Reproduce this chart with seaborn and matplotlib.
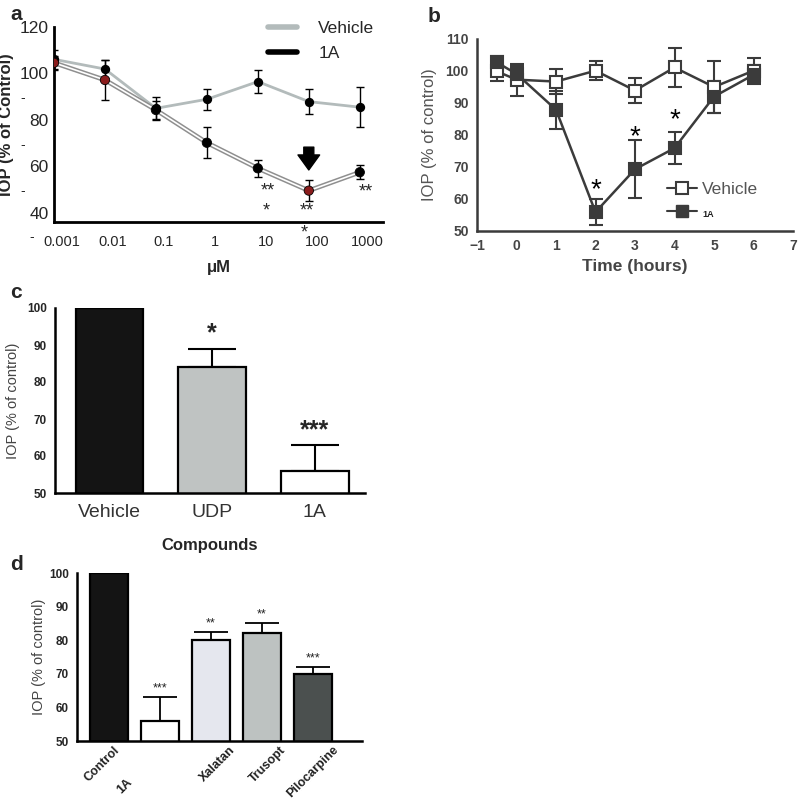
import numpy as np
import pandas as pd
import seaborn as sns
import matplotlib
matplotlib.use("Agg")
import matplotlib.pyplot as plt
from matplotlib.transforms import ScaledTranslation

sns.set_theme(style="white")
plt.rcParams['font.family'] = ['Liberation Sans', 'DejaVu Sans']

# ---------------- data ----------------
# Panel a: dose response
conc = [0.0007, 0.007, 0.07, 0.7, 7, 70, 700]
conc_ticks = [0.001, 0.01, 0.1, 1, 10, 100, 1000]
conc_labels = ['0.001', '0.01', '0.1', '1', '10', '100', '1000']
a_vehicle = [106.1, 101.9, 85.0, 88.9, 96.5, 87.9, 85.5]
a_vehicle_err = [4, 4, 5, 4.5, 5, 5.4, 8.7]
a_1a = [104.6, 97.2, 84.3, 70.2, 59.2, 49.6, 57.5]
a_1a_err = [3, 8.6, 4, 6.7, 3.6, 4.5, 3]
a_1a_red = [True, True, False, False, False, True, False]

# Panel b: time course
time_h = [-0.5, 0, 1, 2, 3, 4, 5, 6]
b_vehicle = [99.9, 97.3, 96.7, 100.1, 93.9, 101.1, 95.0, 100.1]
b_vehicle_err = [3, 5, 4, 3, 4, 6, 8, 4]
b_1a = [102.7, 99.1, 87.9, 55.9, 69.3, 75.9, 92.0, 98.8]
b_1a_err = [2, 2.5, 6, 4, 9, 5, 5, 3]
b_sig_times = [2, 3, 4]
b_sig_y = [62.7, 79.4, 84.6]

# Panel c: compounds
c_labels = ['Vehicle', 'UDP', '1A']
c_values = [100, 84, 56]
c_err = [0, 5, 7]
c_sig = ['', '*', '***']
c_colors = ['#141414', '#bec4c2', '#ffffff']

# Panel d: comparison
d_labels = ['Control', '1A', 'Xalatan', 'Trusopt', 'Pilocarpine']
d_values = [100, 56, 80, 82, 70]
d_err = [0, 7, 2.5, 3, 2]
d_sig = ['', '***', '**', '**', '***']
d_colors = ['#141414', '#ffffff', '#e4e6ef', '#bcc3c1', '#4a5150']

W, H = 798, 800
fig = plt.figure(figsize=(W / 100, H / 100), dpi=100)


def ax_px(l, t, r, b):
    return fig.add_axes([l / W, 1 - b / H, (r - l) / W, (b - t) / H])


# ---------------- panel a ----------------
ax = ax_px(54, 27, 383, 222)
veh_col = '#b3bbbb'
sns.lineplot(x=conc, y=a_vehicle, ax=ax, color=veh_col, linewidth=2, zorder=2)
sns.lineplot(x=conc, y=a_1a, ax=ax, color='#8f8f8f', linewidth=3.4, zorder=2)
sns.lineplot(x=conc, y=a_1a, ax=ax, color='white', linewidth=1.2, zorder=2)
ax.errorbar(conc, a_vehicle, yerr=a_vehicle_err, fmt='none', ecolor='black',
            elinewidth=1, capsize=3, capthick=1, zorder=3)
ax.errorbar(conc, a_1a, yerr=a_1a_err, fmt='none', ecolor='black',
            elinewidth=1, capsize=3, capthick=1, zorder=3)
ax.scatter(conc, a_vehicle, s=45, color='black', zorder=4, linewidths=0)
a_face = ['#8a1c1c' if r else 'black' for r in a_1a_red]
ax.scatter(conc, a_1a, s=45, c=a_face, edgecolors='black', linewidths=0.6, zorder=4)
ax.set_xscale('log')
ax.set_xlim(0.0007, 2000)
ax.set_ylim(36.1, 120)
ax.set_xticks(conc_ticks)
ax.set_xticklabels(conc_labels, fontsize=10.5)
ax.minorticks_off()
ax.set_yticks([40, 60, 80, 100, 120])
ax.set_yticklabels(['40', '60', '80', '100', '120'], fontsize=12.5)
ax.set_yticks([50, 70, 90], minor=True)
ax.set_yticklabels(['-', '-', '-'], minor=True, fontsize=10)
ax.tick_params(axis='x', direction='out', length=7, width=1.5, color='black', pad=2)
ax.tick_params(axis='y', which='major', length=0, pad=4)
ax.tick_params(axis='y', which='minor', length=0, pad=21)
for s in ['top', 'right']:
    ax.spines[s].set_visible(False)
for s in ['left', 'bottom']:
    ax.spines[s].set_linewidth(2)
    ax.spines[s].set_color('black')
ax.set_xlabel('μM', fontsize=12, fontweight='bold', labelpad=8)
ax.set_ylabel('IOP (% of Control)', fontsize=12, fontweight='bold', labelpad=4)
ax.text(-0.067, -0.075, '-', transform=ax.transAxes, fontsize=10, ha='center', va='center')
# arrow marking best dose
ax.annotate('', xy=(70, 57.3), xytext=(70, 69.5),
            arrowprops=dict(arrowstyle='simple,head_width=1.3,head_length=0.9,tail_width=0.6',
                            color='black'))
for xx, yy, tt in [(11, 49.5, '**'), (10.3, 40.8, '*'), (64, 40.8, '**'),
                   (58, 31.5, '*'), (917, 48.8, '**')]:
    ax.text(xx, yy, tt, fontsize=13, ha='center', va='center', clip_on=False)
leg_handles = [plt.Line2D([], [], color=veh_col, lw=4),
               plt.Line2D([], [], color='black', lw=4)]
ax.legend(leg_handles, ['Vehicle', '1A'], loc='upper left', bbox_to_anchor=(0.65, 1.03),
          frameon=False, fontsize=12.5, handlelength=1.7, labelspacing=0.55,
          handletextpad=1.2, borderpad=0, borderaxespad=0)

# ---------------- panel b ----------------
gcol = '#3b3b3b'
ax = ax_px(477, 39, 793, 231)
sns.lineplot(x=time_h, y=b_vehicle, ax=ax, color=gcol, linewidth=1.8, zorder=2)
sns.lineplot(x=time_h, y=b_1a, ax=ax, color=gcol, linewidth=1.8, zorder=2)
ax.errorbar(time_h, b_vehicle, yerr=b_vehicle_err, fmt='none', ecolor=gcol,
            elinewidth=1.5, capsize=5, capthick=1.5, zorder=3)
ax.errorbar(time_h, b_1a, yerr=b_1a_err, fmt='none', ecolor=gcol,
            elinewidth=1.5, capsize=5, capthick=1.5, zorder=3)
ax.plot(time_h, b_vehicle, ls='none', marker='s', ms=9, mfc='white', mec=gcol, mew=1.5, zorder=4)
ax.plot(time_h, b_1a, ls='none', marker='s', ms=9, mfc=gcol, mec=gcol, mew=1.5, zorder=4)
for tt, yy in zip(b_sig_times, b_sig_y):
    ax.text(tt, yy, '*', fontsize=20, ha='center', va='center', color='black')
ax.set_xlim(-1, 7)
ax.set_ylim(50, 110)
ax.set_xticks(range(-1, 8))
ax.set_yticks(range(50, 111, 10))
ax.tick_params(labelsize=10, direction='out', length=4, width=1.6, color=gcol, pad=2)
for lab in ax.get_xticklabels() + ax.get_yticklabels():
    lab.set_fontweight('bold')
    lab.set_color('#454545')
for s in ['top', 'right']:
    ax.spines[s].set_visible(False)
for s in ['left', 'bottom']:
    ax.spines[s].set_linewidth(1.8)
    ax.spines[s].set_color(gcol)
ax.set_xlabel('Time (hours)', fontsize=12.5, fontweight='bold', color='#454545', labelpad=4)
ax.set_ylabel('IOP (% of control)', fontsize=12, color='#555555', labelpad=6)
hb = [plt.Line2D([], [], color=gcol, lw=1.5, marker='s', ms=8, mfc='white', mec=gcol, mew=1.5),
      plt.Line2D([], [], color=gcol, lw=1.5, marker='s', ms=8, mfc=gcol, mec=gcol)]
lg = ax.legend(hb, ['Vehicle', '1A'], loc='center left', bbox_to_anchor=(0.60, 0.16),
               frameon=False, fontsize=12.5, handlelength=1.75, labelspacing=0.45,
               handletextpad=0.3, borderpad=0, borderaxespad=0)
lg.get_texts()[0].set_color('#555555')
lg.get_texts()[1].set_fontsize(6.5)
lg.get_texts()[1].set_fontweight('bold')
lg.get_texts()[1].set_color('#222222')

# ---------------- panel c ----------------
ax = ax_px(55, 308, 365, 493)
sns.barplot(x=c_labels, y=c_values, hue=c_labels, palette=c_colors, legend=False,
            width=0.66, edgecolor='black', linewidth=1.6, ax=ax, zorder=2)
xs = np.arange(len(c_labels))
err_low = np.zeros(len(c_err))
ax.errorbar(xs, c_values, yerr=[err_low, c_err], fmt='none', ecolor='black',
            elinewidth=1.5, capsize=17, capthick=1.5, zorder=1)
for x, v, e, s in zip(xs, c_values, c_err, c_sig):
    if s:
        ax.text(x, v + e + 0.8, s, fontsize=18, fontweight='bold', ha='center', va='bottom')
ax.set_xlim(-0.53, 2.49)
ax.set_ylim(50, 100)
ax.set_yticks(range(50, 101, 10))
ax.tick_params(axis='y', labelsize=8.5, direction='out', length=4, width=1.6, color='black', pad=2)
ax.tick_params(axis='x', labelsize=14, length=0, pad=8, labelcolor='#333333')
for lab in ax.get_yticklabels():
    lab.set_fontweight('bold')
for s in ['top', 'right']:
    ax.spines[s].set_visible(False)
for s in ['left', 'bottom']:
    ax.spines[s].set_linewidth(1.8)
    ax.spines[s].set_color('black')
ax.set_xlabel('Compounds', fontsize=12, fontweight='bold', labelpad=12)
ax.set_ylabel('IOP (% of control)', fontsize=10.5, color='#444444', labelpad=5)

# ---------------- panel d ----------------
ax = ax_px(77, 573, 362, 741)
sns.barplot(x=d_labels, y=d_values, hue=d_labels, palette=d_colors, legend=False,
            width=0.76, edgecolor='black', linewidth=1.6, ax=ax, zorder=2)
xs = np.arange(len(d_labels))
err_low = np.zeros(len(d_err))
ax.errorbar(xs, d_values, yerr=[err_low, d_err], fmt='none', ecolor='black',
            elinewidth=1.3, capsize=12, capthick=1.3, zorder=1)
for x, v, e, s in zip(xs, d_values, d_err, d_sig):
    if s:
        ax.text(x, v + e + 0.8, s, fontsize=9, ha='center', va='bottom', color='#222222')
ax.set_xlim(-0.63, 4.96)
ax.set_ylim(50, 100)
ax.set_yticks(range(50, 101, 10))
ax.tick_params(axis='y', labelsize=8.5, direction='out', length=4, width=1.6, color='black', pad=2)
ax.tick_params(axis='x', length=0, pad=2)
for lab in ax.get_yticklabels():
    lab.set_fontweight('bold')
ax.set_xticks(xs)
ax.set_xticklabels(d_labels, rotation=45, ha='right', rotation_mode='anchor',
                   fontsize=9, fontweight='bold', color='#222222')
label_shift_px = [(4, 0), (-34, -33), (18, 0), (18, 0), (19, 0)]
for lab, (dx, dy) in zip(ax.get_xticklabels(), label_shift_px):
    lab.set_transform(lab.get_transform() +
                      ScaledTranslation(dx / 100, dy / 100, fig.dpi_scale_trans))
for s in ['top', 'right']:
    ax.spines[s].set_visible(False)
for s in ['left', 'bottom']:
    ax.spines[s].set_linewidth(1.8)
    ax.spines[s].set_color('black')
ax.set_ylabel('IOP (% of control)', fontsize=10.5, color='#444444', labelpad=2)

# panel letters
for lx, ly, t in [(10, 14, 'a'), (428, 16, 'b'), (10, 292, 'c'), (10, 564, 'd')]:
    fig.text(lx / W, 1 - ly / H, t, fontsize=15, fontweight='bold', ha='left', va='center')

fig.savefig('out.png', dpi=100)
